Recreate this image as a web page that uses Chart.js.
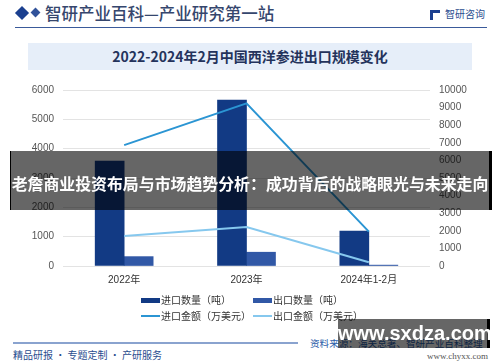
<!DOCTYPE html>
<html><head><meta charset="utf-8">
<script src="https://cdn.jsdelivr.net/npm/chart.js@4/dist/chart.umd.min.js"></script>
<style>
html,body{margin:0;padding:0;background:#fff;}
#wrap{position:relative;width:500px;height:362px;overflow:hidden;font-family:"Noto Sans CJK SC","Liberation Sans",sans-serif;}
#c{position:absolute;left:0;top:0;z-index:2;}
.abs{position:absolute;white-space:nowrap;}
#legend{position:absolute;left:141px;top:293px;z-index:3;width:260px;}
.li{position:absolute;font-size:10px;color:#333;line-height:14px;display:flex;align-items:center;}
.li i{display:inline-block;width:19px;margin-right:1px;}
</style></head>
<body>
<div id="wrap">
  <div class="abs" style="left:17px;top:8px;width:10px;height:10px;background:#1b3f8f;transform:rotate(45deg);"></div>
  <div class="abs" style="left:32px;top:9px;width:7px;height:7px;background:#1b3f8f;transform:rotate(45deg);opacity:.9"></div>
  <div class="abs" style="left:45px;top:1px;font-size:16.5px;color:#35466d;font-weight:500;">智研产业百科—产业研究第一站</div>
  <div class="abs" style="left:430px;top:10px;width:10px;height:10px;border-left:3px solid #1b3f8f;border-top:3px solid #1b3f8f;box-sizing:border-box;"></div>
  <div class="abs" style="left:445px;top:6px;font-size:10px;color:#2a4d8f;">智研咨询</div>
  <div class="abs" style="left:15px;top:27px;width:472px;height:1px;background:#3a5a9a;"></div>
  <div class="abs" style="left:28px;top:43px;width:444px;height:27px;background:#e6eef9;"></div>
  <div class="abs" style="left:28px;top:43px;width:444px;height:27px;line-height:27px;text-align:center;font-size:14px;font-weight:700;color:#24335c;">2022-2024年2月中国西洋参进出口规模变化</div>

  <canvas id="c" width="500" height="362"></canvas>
  <div id="legend"></div>

  <div class="abs" style="left:13px;top:342px;width:285px;height:2px;background:#8aa3cf;"></div>
  <div class="abs" style="left:13px;top:347px;font-size:10px;color:#2a4d8f;">精品研报 · 专题定制 · 产研服务</div>
  <div class="abs" style="left:310px;top:336px;font-size:9.6px;color:#2a5ca8;">资料来源：海关总署、智研产业百科整理</div>
  <div class="abs" style="left:427px;top:351px;font-size:9px;color:#555;font-family:'Liberation Serif',serif;">www.chyxx.com</div>

  <div class="abs" style="left:10px;top:151px;width:478px;height:59px;background:rgba(0,0,0,0.6);border-left:1px solid #000;border-right:3px solid #000;z-index:5;"></div>
  <div class="abs" style="left:8px;top:172px;width:484px;text-align:center;font-size:15.9px;font-weight:700;color:#fff;z-index:6;">老詹商业投资布局与市场趋势分析：成功背后的战略眼光与未来走向</div>

  <div class="abs" style="left:338px;top:319px;width:149px;height:29px;background:rgba(0,0,0,0.6);border-right:3px solid #000;z-index:5;"></div>
  <div class="abs" style="left:338px;top:319px;width:152px;height:29px;line-height:29px;text-align:center;font-size:20px;font-weight:700;color:#fff;z-index:6;font-family:'Liberation Sans',sans-serif;">www.sxdza.com</div>
</div>
<script>
const categories = ["2022年", "2023年", "2024年1-2月"];
const importQty = [3580, 5660, 1190];     // 吨
const exportQty = [320, 470, 30];         // 吨
const importAmt = [6870, 9240, 1950];     // 万美元
const exportAmt = [1710, 2220, 210];      // 万美元
const seriesNames = ["进口数量（吨）", "出口数量（吨）", "进口金额（万美元）", "出口金额（万美元）"];
const colors = ["#123a84", "#3158a6", "#2b95d3", "#86c8ee"];

const tickFont = {family: "'Liberation Sans','Noto Sans CJK SC',sans-serif", size: 10};
const plain = v => String(v);

const chart = new Chart(document.getElementById('c'), {
  type: 'bar',
  data: {
    labels: categories,
    datasets: [
      {type:'line', label: seriesNames[2], data: importAmt, yAxisID:'y1', borderColor: colors[2], backgroundColor: colors[2], borderWidth: 2, pointRadius: 0, tension: 0, order: 0},
      {type:'line', label: seriesNames[3], data: exportAmt, yAxisID:'y1', borderColor: colors[3], backgroundColor: colors[3], borderWidth: 2, pointRadius: 0, tension: 0, order: 0},
      {type:'bar', label: seriesNames[0], data: importQty, yAxisID:'y', backgroundColor: colors[0], barThickness: 29, order: 1},
      {type:'bar', label: seriesNames[1], data: exportQty, yAxisID:'y', backgroundColor: colors[1], barThickness: 29, order: 1}
    ]
  },
  options: {
    responsive: false,
    animation: false,
    layout: {padding: {left: 0, right: 0, top: 90, bottom: 76}},
    plugins: {legend: {display: false}, tooltip: {enabled: false}},
    scales: {
      x: {
        grid: {display: false, drawTicks: false},
        border: {display: false},
        ticks: {color: '#333', font: tickFont, padding: 8, maxRotation: 0},
        afterFit(s){ s.height = 20; }
      },
      y: {
        position: 'left', min: 0, max: 6000,
        ticks: {stepSize: 1000, color: '#555', font: tickFont, padding: 9, callback: plain},
        grid: {color: '#e3e3e3', drawTicks: false, lineWidth: 1},
        border: {display: false},
        afterFit(s){ s.width = 63; }
      },
      y1: {
        position: 'right', min: 0, max: 10000,
        ticks: {stepSize: 1000, color: '#555', font: tickFont, padding: 9, callback: plain},
        grid: {display: false, drawTicks: false},
        border: {display: false},
        afterFit(s){ s.width = 70; }
      }
    }
  }
});

// HTML legend built from chart datasets
const legendOrder = [2, 3, 0, 1];
const lg = document.getElementById('legend');
legendOrder.forEach((di, k) => {
  const ds = chart.data.datasets[di];
  const el = document.createElement('div');
  el.className = 'li';
  el.style.left = (k % 2) * 112 + 'px';
  el.style.top = Math.floor(k / 2) * 16 + 'px';
  const mk = document.createElement('i');
  if (ds.type === 'bar') { mk.style.height = '5px'; mk.style.background = ds.backgroundColor; }
  else { mk.style.height = '2px'; mk.style.background = ds.borderColor; }
  el.appendChild(mk);
  el.appendChild(document.createTextNode(ds.label));
  lg.appendChild(el);
});
</script>
</body></html>
